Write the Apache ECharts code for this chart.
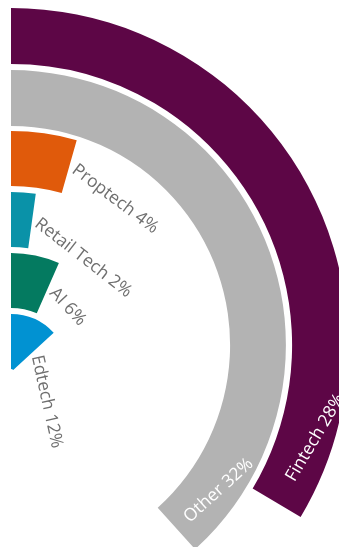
<!DOCTYPE html>
<html>
<head>
<meta charset="utf-8">
<script src="https://cdn.jsdelivr.net/npm/echarts@6/dist/echarts.min.js"></script>
<style>
html,body{margin:0;padding:0;background:#fff;}
#chart{width:339px;height:547px;}
</style>
</head>
<body>
<div id="chart"></div>
<script>
// ---- data ----
const outerCategories = ['Other', 'Fintech'];
const outerValues = [32, 28];
const outerColors = ['#B3B3B3', '#5D0646'];

const innerCategories = ['Edtech', 'AI', 'Retail Tech', 'Proptech'];
const innerValues = [12, 6, 2, 4];
const innerColors = ['#0192D2', '#047A60', '#0A92A8', '#E05A0B'];

// ---- style ----
const FONT_SIZE = 17.5;
const FONT_FAMILY = '"Open Sans", "Noto Sans", sans-serif';
const measureCtx = document.createElement('canvas').getContext('2d');
function textWidth(t) {
  measureCtx.font = FONT_SIZE + 'px ' + FONT_FAMILY;
  return measureCtx.measureText(t).width;
}

function innerLabel(params, api) {
  const cs = params.coordSys;
  const cx = cs.cx, cy = cs.cy;
  const idx = params.dataIndex;
  const p = api.coord([api.value(0), api.value(1)]);
  const dx = p[0] - cx, dy = p[1] - cy;
  const rm = Math.hypot(dx, dy);
  const aEnd = Math.atan2(dy, dx);
  const text = innerCategories[idx] + ' ' + innerValues[idx] + '%';
  const L = textWidth(text);
  const gap = 5;
  const a1 = aEnd + gap / rm;
  const ac = aEnd + Math.min((gap + L / 2) / rm, 24 * Math.PI / 180) + 6 * Math.PI / 180;
  const sx = cx + rm * Math.cos(a1), sy = cy + rm * Math.sin(a1);
  const dirx = -Math.sin(ac), diry = Math.cos(ac);
  return {
    type: 'text', x: sx, y: sy, rotation: Math.atan2(-diry, dirx),
    style: { text: text, fill: '#6f6f6f', fontSize: FONT_SIZE, fontFamily: FONT_FAMILY,
             align: 'left', verticalAlign: 'middle' }
  };
}

function outerLabel(params, api) {
  const cs = params.coordSys;
  const cx = cs.cx, cy = cs.cy;
  const idx = params.dataIndex;
  const p = api.coord([api.value(0), api.value(1)]);
  const dx = p[0] - cx, dy = p[1] - cy;
  const rm = Math.hypot(dx, dy);
  const aEnd = Math.atan2(dy, dx);
  const ux = Math.sin(aEnd), uy = -Math.cos(aEnd);
  const d = rm * 0.405;
  const text = outerCategories[idx] + ' ' + outerValues[idx] + '%';
  return {
    type: 'text', x: p[0] + d * ux, y: p[1] + d * uy, rotation: Math.atan2(-uy, ux),
    style: { text: text, fill: '#ffffff', fontSize: FONT_SIZE, fontFamily: FONT_FAMILY,
             align: 'right', verticalAlign: 'middle' }
  };
}

const hiddenAxis = { show: false, axisLine: { show: false }, axisTick: { show: false },
                     axisLabel: { show: false }, splitLine: { show: false }, splitArea: { show: false } };

const chart = echarts.init(document.getElementById('chart'), null, { renderer: 'canvas' });
chart.setOption({
  animation: false,
  backgroundColor: '#ffffff',
  polar: [
    { center: [11, 345], radius: [216, 340] },
    { center: [11, 372], radius: [0, 244] }
  ],
  angleAxis: [
    Object.assign({ polarIndex: 0, type: 'value', min: 0, max: 83.5, startAngle: 90, clockwise: true }, hiddenAxis),
    Object.assign({ polarIndex: 1, type: 'value', min: 0, max: 91, startAngle: 90, clockwise: true }, hiddenAxis)
  ],
  radiusAxis: [
    Object.assign({ polarIndex: 0, type: 'category', data: outerCategories }, hiddenAxis),
    Object.assign({ polarIndex: 1, type: 'category', data: innerCategories }, hiddenAxis)
  ],
  series: [
    {
      type: 'bar', coordinateSystem: 'polar', polarIndex: 0, barCategoryGap: '10%',
      data: outerValues.map((v, i) => ({ value: v, itemStyle: { color: outerColors[i] } })),
      silent: true
    },
    {
      type: 'bar', coordinateSystem: 'polar', polarIndex: 1, barCategoryGap: '10%',
      data: innerValues.map((v, i) => ({ value: v, itemStyle: { color: innerColors[i] } })),
      silent: true
    },
    {
      type: 'custom', coordinateSystem: 'polar', polarIndex: 0, z: 5, silent: true,
      renderItem: outerLabel,
      data: outerValues.map((v, i) => [i, v])
    },
    {
      type: 'custom', coordinateSystem: 'polar', polarIndex: 1, z: 5, silent: true,
      renderItem: innerLabel,
      data: innerValues.map((v, i) => [i, v])
    }
  ]
});
</script>
</body>
</html>
